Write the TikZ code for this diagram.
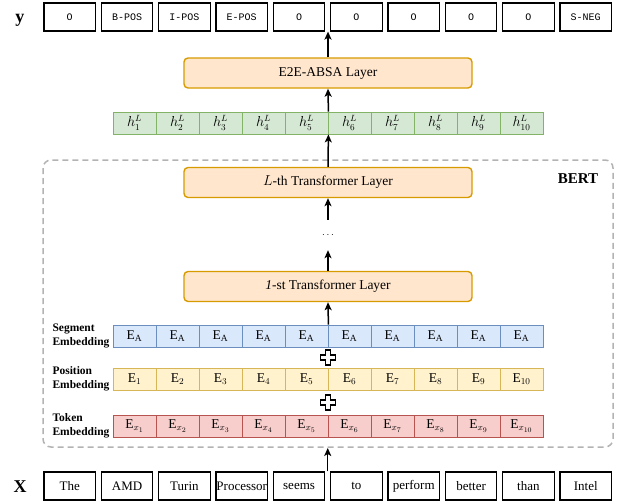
\documentclass[tikz,border=0pt]{standalone}
\usepackage{fontspec}
\setmainfont{Liberation Serif}
\setmonofont{Liberation Mono}
\usetikzlibrary{arrows.meta,calc,positioning}

\definecolor{layerline}{HTML}{D79B00}
\definecolor{layerfill}{HTML}{FFE6CC}
\definecolor{hline}{HTML}{82B366}
\definecolor{hfill}{HTML}{D5E8D4}
\definecolor{segline}{HTML}{6C8EBF}
\definecolor{segfill}{HTML}{DAE8FC}
\definecolor{posline}{HTML}{D6B656}
\definecolor{posfill}{HTML}{FFF2CC}
\definecolor{tokline}{HTML}{B85450}
\definecolor{tokfill}{HTML}{F8CECC}
\definecolor{bertline}{HTML}{B3B3B3}

\begin{document}
\begin{tikzpicture}[
    x=1pt, y=-1pt,
    layer/.style={draw=layerline, fill=layerfill, line width=1.4pt,
        rounded corners=4pt, minimum width=288pt, minimum height=30pt,
        inner sep=0pt, font=\fontsize{13.5}{16}\selectfont},
    cell/.style={minimum width=43pt, minimum height=22pt, inner sep=0pt,
        line width=0.8pt, font=\fontsize{13.5}{15}\selectfont},
    tag/.style={draw, line width=1.2pt, minimum width=51.5pt,
        minimum height=28pt, inner sep=0pt},
    rowname/.style={font=\bfseries\fontsize{11.5}{13.5}\selectfont,
        align=left, inner sep=0pt},
    side/.style={font=\bfseries\fontsize{18}{20}\selectfont, inner sep=0pt},
    pile/.style={line width=1.5pt, -{Stealth[length=8pt,width=7pt,inset=2pt]}},
    addsign/.pic={
        \draw[fill=white, line width=1.1pt] (-2.5,-7.5) -- (2.5,-7.5)
            -- (2.5,-2.5) -- (7.5,-2.5) -- (7.5,2.5) -- (2.5,2.5)
            -- (2.5,7.5) -- (-2.5,7.5) -- (-2.5,2.5) -- (-7.5,2.5)
            -- (-7.5,-2.5) -- (-2.5,-2.5) -- cycle;
    }
    ]
    \useasboundingbox (0,0) rectangle (622,501);
    % BERT frame
    \draw[bertline, dashed, dash pattern=on 6pt off 4pt, line width=1.5pt,
        rounded corners=8pt] (43,160) rectangle (613,447);
    \node[font=\bfseries\fontsize{15}{17}\selectfont] (bert) at (578,179) {BERT};
    % output tags
    \node[side] (ylab) at (20,20) {y};
    \foreach \t [count=\i] in {O,B-POS,I-POS,E-POS,O,O,O,O,O,S-NEG}
        \node[tag, font=\ttfamily\fontsize{10}{12}\selectfont] (y\i)
            at ({69.75+57.33*(\i-1)},17) {\t};
    % input words
    \node[side] (xlab) at (20,486.5) {X};
    \foreach \w [count=\i] in {The,AMD,Turin,Processor,seems,to,perform,better,than,Intel}
        \node[tag, font=\fontsize{13}{15}\selectfont] (x\i)
            at ({69.75+57.33*(\i-1)},486) {\w};
    % layers
    \node[layer] (absa) at (328,73) {E2E-ABSA Layer};
    \node[layer] (lth) at (328,182.5) {$L$-th Transformer Layer};
    \node[layer] (first) at (328,286.5) {\textit{1}-st Transformer Layer};
    \node[minimum height=30pt, inner sep=0pt] (dots) at (328,235) {$\cdots$};
    % hidden states and embeddings
    \foreach \i in {1,...,10} {
        \node[cell, draw=hline, fill=hfill] (h\i)
            at ({134.5+43*(\i-1)},123) {$h^L_{\i}$};
        \node[cell, draw=segline, fill=segfill] (s\i)
            at ({134.5+43*(\i-1)},336) {E$_{\mathrm{A}}$};
        \node[cell, draw=posline, fill=posfill] (p\i)
            at ({134.5+43*(\i-1)},379) {E$_{\i}$};
        \node[cell, draw=tokline, fill=tokfill] (t\i)
            at ({134.5+43*(\i-1)},426) {E$_{x_{\i}}$};
    }
    \node[rowname, left=3pt of s1] (segname) {Segment\\Embedding};
    \node[rowname, left=3pt of p1] (posname) {Position\\Embedding};
    \node[rowname, left=3pt of t1] (tokname) {Token\\Embedding};
    % sums
    \pic at ($(s5.south east)!0.5!(p5.north east)$) {addsign};
    \pic at ($(p5.south east)!0.5!(t5.north east)$) {addsign};
    % arrows
    \coordinate (inp) at ($(x5.north east)!0.5!(x6.north west)$);
    \draw[pile] (inp) -- (inp |- 0,448);
    \draw[pile] (s5.north east) -- (first.south);
    \draw[pile] (first.north) -- (dots.south);
    \draw[pile] (dots.north) -- (lth.south);
    \draw[pile] (lth.north) -- (h5.south east);
    \draw[pile] (h5.north east) -- (absa.south);
    \draw[pile] (absa.north) -- (absa.north |- y5.south);
\end{tikzpicture}
\end{document}
